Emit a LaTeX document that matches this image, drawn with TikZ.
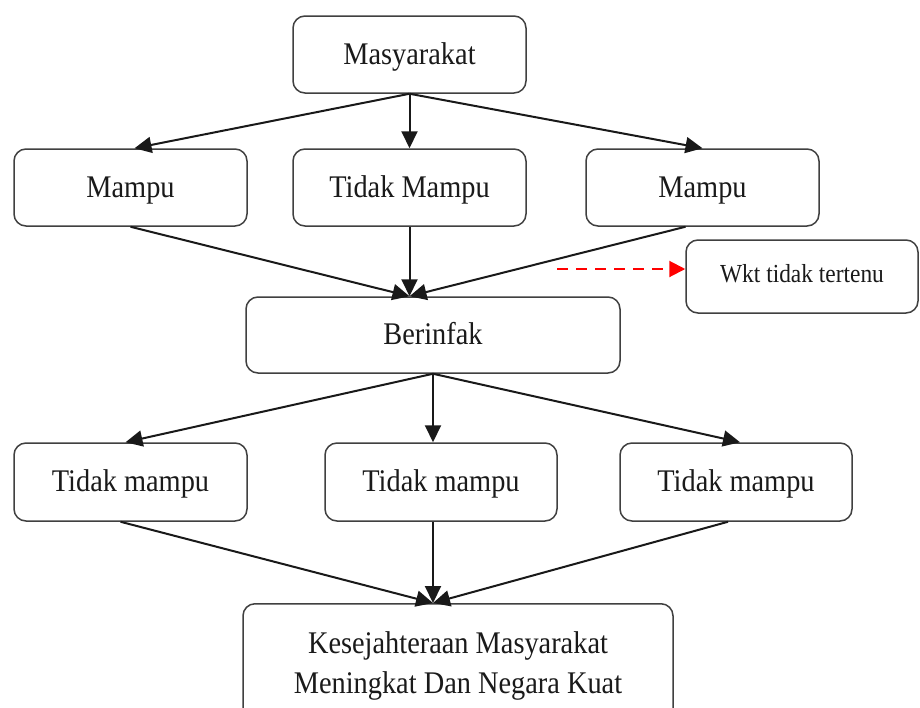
\documentclass[tikz,border=0pt]{standalone}
\usepackage{fontspec}
\setmainfont{Liberation Serif}[FakeStretch=0.9]
\usetikzlibrary{arrows.meta,calc}
\definecolor{boxline}{HTML}{404040}
\definecolor{txt}{HTML}{1A1A1A}
\tikzset{
  box/.style={draw=boxline, line width=1.5pt, rounded corners=12pt, fill=white,
    minimum width=233pt, minimum height=77pt, inner sep=0pt, text=txt,
    font=\fontsize{31.5}{40}\selectfont, align=center},
  one/.style={text height=22pt, text depth=3pt},
  arr/.style={line width=2pt, draw=black!90, -{Triangle[length=17pt,width=16pt]}},
  redarr/.style={line width=2pt, draw=red, dash pattern=on 11pt off 8pt,
    -{Triangle[length=16pt,width=16pt,fill=red]}}
}
\begin{document}
\begin{tikzpicture}[x=1pt,y=-1pt]
\useasboundingbox[fill=white] (0,0) rectangle (920,707);

\node[box,one] (m) at (409.5,54.5) {Masyarakat};
\node[box,one] (a1) at (130.5,187.5) {Mampu};
\node[box,one] (a2) at (409.5,187.5) {Tidak Mampu};
\node[box,one] (a3) at (702.5,187.5) {Mampu};
\node[box, minimum width=232pt, minimum height=73pt, text height=18pt, text depth=7pt,
      font=\fontsize{26}{30}\selectfont] (w) at (802,276.5) {Wkt tidak tertenu};
\node[box,one, minimum width=374pt, minimum height=76pt] (b) at (433,335) {Berinfak};
\node[box,one, minimum height=78pt] (c1) at (130.5,482) {Tidak mampu};
\node[box,one, minimum width=232pt, minimum height=78pt] (c2) at (441,482) {Tidak mampu};
\node[box,one, minimum width=232pt, minimum height=78pt] (c3) at (736,482) {Tidak mampu};
\node[box, anchor=north, minimum width=430pt, minimum height=124pt] (d) at (458,603)
  {Kesejahteraan Masyarakat\\Meningkat Dan Negara Kuat};

% top level
\draw[arr] (m.south) -- ([xshift=4pt]a1.north);
\draw[arr] (m.south) -- (a2.north);
\draw[arr] (m.south) -- (a3.north);
% into Berinfak
\coordinate (bt) at (m.south |- b.north);
\draw[arr] (a1.south) -- (bt);
\draw[arr] (a2.south) -- (bt);
\draw[arr] ([xshift=-17pt]a3.south) -- (bt);
% dashed
\coordinate (ds) at (557,269);
\draw[redarr] (ds) -- (ds -| w.west);
% from Berinfak
\draw[arr] (b.south) -- ([xshift=-5pt]c1.north);
\draw[arr] (b.south) -- (b.south |- c2.north);
\draw[arr] (b.south) -- ([xshift=4pt]c3.north);
% into bottom
\coordinate (dt) at (b.south |- d.north);
\draw[arr] ([xshift=-10pt]c1.south) -- (dt);
\draw[arr] (b.south |- c2.south) -- (dt);
\draw[arr] ([xshift=-8pt]c3.south) -- (dt);
\end{tikzpicture}
\end{document}
